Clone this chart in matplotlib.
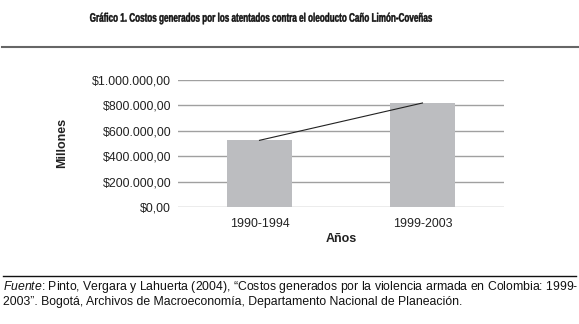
import matplotlib
matplotlib.use("Agg")
import matplotlib.pyplot as plt
from matplotlib.lines import Line2D
from matplotlib.textpath import TextPath
from matplotlib.patches import PathPatch
from matplotlib.font_manager import FontProperties
from matplotlib.transforms import Affine2D

# datos
periodos = ["1990-1994", "1999-2003"]
costos = [525000, 819000]
yticks = [0, 200000, 400000, 600000, 800000, 1000000]
ytick_labels = ["$0,00", "$200.000,00", "$400.000,00", "$600.000,00",
                "$800.000,00", "$1.000.000,00"]

titulo = "Gráfico 1. Costos generados por los atentados contra el oleoducto Caño Limón-Coveñas"
fuente_1 = r"$\it{Fuente}$: Pinto, Vergara y Lahuerta (2004), “Costos generados por la violencia armada en Colombia: 1999-"
fuente_2 = "2003”. Bogotá, Archivos de Macroeconomía, Departamento Nacional de Planeación."

plt.rcParams["font.family"] = ["Liberation Sans", "DejaVu Sans"]
plt.rcParams["mathtext.fontset"] = "custom"
plt.rcParams["mathtext.it"] = "Liberation Sans:italic"
plt.rcParams["mathtext.rm"] = "Liberation Sans"

W, H = 579, 324
fig = plt.figure(figsize=(W / 100, H / 100), dpi=100)

def fx(px):
    return px / W

def fy(py):
    return 1 - py / H

ax = fig.add_axes([fx(178), fy(207), fx(504) - fx(178), fy(80) - fy(207)])
x = range(len(periodos))
ax.bar(x, costos, width=0.4, color="#bcbdc0", zorder=2)
ax.plot(x, costos, color="#222222", lw=0.8, zorder=3)

ax.set_xlim(-0.5, 1.5)
ax.set_ylim(0, 1000000)
ax.set_yticks(yticks)
ax.set_yticklabels(ytick_labels, fontsize=8.9, color="#222222")
ax.set_xticks(list(x))
ax.set_xticklabels(periodos, fontsize=8.9, color="#222222")
ax.tick_params(length=0)
ax.tick_params(axis="y", pad=5)
ax.tick_params(axis="x", pad=8)
ax.yaxis.grid(True, color="#a0a0a0", lw=1)
ax.set_axisbelow(True)
for s in ax.spines.values():
    s.set_visible(False)

fig.text(fx(62), fy(143), "Millones", rotation=90, fontsize=9, fontweight="bold",
         ha="center", va="center", color="#222222")
fig.text(fx(341), fy(239), "Años", fontsize=9, fontweight="bold",
         ha="center", va="center", color="#222222")

# titulo en letra condensada: se estrecha el trazo del texto
tp = TextPath((0, 0), titulo, size=12.3,
              prop=FontProperties(family="Liberation Sans", weight="bold"))
bb = tp.get_extents()
sx = 342 / bb.width
tr = Affine2D().translate(-bb.x0, 0).scale(sx, 1).translate(90, H - 21.7)
fig.add_artist(PathPatch(tp, transform=tr, facecolor="#111111", edgecolor="#111111", lw=0.3))

fig.add_artist(Line2D([fx(2), fx(579)], [fy(47), fy(47)], color="#666666", lw=1.5))
fig.add_artist(Line2D([fx(3), fx(576)], [fy(276), fy(276)], color="#111111", lw=1))

fig.text(fx(3), fy(287), fuente_1, fontsize=8.8, ha="left", va="center", color="#111111")
fig.text(fx(3), fy(302), fuente_2, fontsize=8.8, ha="left", va="center", color="#111111")

fig.savefig("out.png", dpi=100, facecolor="white")
